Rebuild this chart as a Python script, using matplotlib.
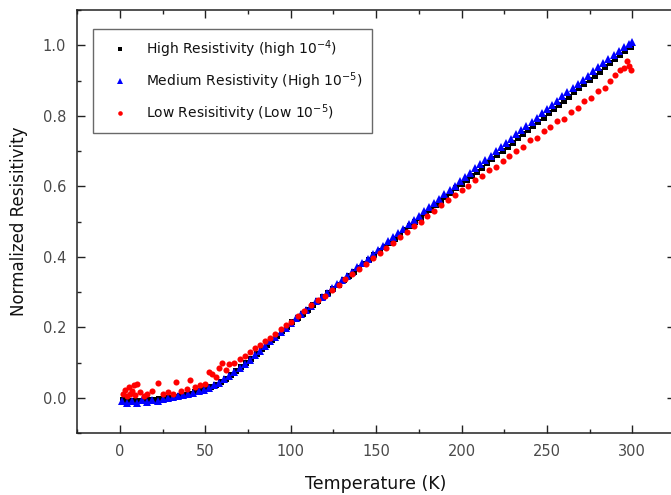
import matplotlib
matplotlib.use("Agg")
import matplotlib.pyplot as plt
from matplotlib.ticker import MultipleLocator

plt.rcParams['font.family'] = ['DejaVu Sans']
plt.rcParams['mathtext.default'] = 'regular'

# ---- data ----
T_high = [2, 5, 8, 11, 14, 17, 20, 23, 26, 29, 32, 35, 38, 41, 44, 47, 50, 53, 56, 59,
          62, 65, 68, 71, 74, 77, 80, 83, 86, 89, 92, 95, 98, 101, 104, 107, 110, 113, 116, 119,
          122, 125, 128, 131, 134, 137, 140, 143, 146, 149, 152, 155, 158, 161, 164, 167, 170, 173, 176, 179,
          182, 185, 188, 191, 194, 197, 200, 203, 206, 209, 212, 215, 218, 221, 224, 227, 230, 233, 236, 239,
          242, 245, 248, 251, 254, 257, 260, 263, 266, 269, 272, 275, 278, 281, 284, 287, 290, 293, 296, 299]
R_high = [-0.006, -0.008, -0.009, -0.009, -0.008, -0.007, -0.005, -0.004, -0.002, 0.000,
          0.002, 0.005, 0.008, 0.011, 0.015, 0.019, 0.024, 0.030, 0.037, 0.045,
          0.054, 0.064, 0.075, 0.087, 0.099, 0.111, 0.124, 0.137, 0.150, 0.163,
          0.176, 0.189, 0.201, 0.214, 0.226, 0.238, 0.250, 0.262, 0.274, 0.286,
          0.297, 0.309, 0.321, 0.333, 0.345, 0.357, 0.369, 0.380, 0.392, 0.404,
          0.416, 0.428, 0.440, 0.451, 0.463, 0.475, 0.487, 0.499, 0.511, 0.523,
          0.534, 0.546, 0.558, 0.570, 0.582, 0.594, 0.605, 0.617, 0.629, 0.641,
          0.653, 0.665, 0.676, 0.688, 0.700, 0.712, 0.724, 0.736, 0.748, 0.759,
          0.771, 0.783, 0.795, 0.807, 0.819, 0.830, 0.842, 0.854, 0.866, 0.878,
          0.890, 0.901, 0.913, 0.925, 0.937, 0.949, 0.961, 0.972, 0.984, 0.996]

T_med = [1, 4, 7, 10, 13, 16, 19, 22, 25, 28, 31, 34, 37, 40, 43, 46, 49, 52, 55, 58,
         61, 64, 67, 70, 73, 76, 79, 82, 85, 88, 91, 94, 97, 100, 103, 106, 109, 112, 115, 118,
         121, 124, 127, 130, 133, 136, 139, 142, 145, 148, 151, 154, 157, 160, 163, 166, 169, 172, 175, 178,
         181, 184, 187, 190, 193, 196, 199, 202, 205, 208, 211, 214, 217, 220, 223, 226, 229, 232, 235, 238,
         241, 244, 247, 250, 253, 256, 259, 262, 265, 268, 271, 274, 277, 280, 283, 286, 289, 292, 295, 298, 300]
R_med = [-0.010, -0.015, -0.008, -0.016, -0.007, -0.012, -0.005, -0.009, -0.003, -0.002,
         0.001, 0.004, 0.007, 0.010, 0.014, 0.018, 0.023, 0.028, 0.035, 0.043,
         0.052, 0.062, 0.072, 0.084, 0.096, 0.108, 0.121, 0.134, 0.147, 0.160,
         0.173, 0.186, 0.199, 0.212, 0.225, 0.237, 0.249, 0.261, 0.274, 0.286,
         0.298, 0.310, 0.322, 0.334, 0.346, 0.358, 0.370, 0.383, 0.395, 0.407,
         0.419, 0.431, 0.444, 0.456, 0.468, 0.480, 0.492, 0.505, 0.517, 0.529,
         0.541, 0.553, 0.565, 0.578, 0.590, 0.602, 0.614, 0.626, 0.638, 0.651,
         0.663, 0.675, 0.687, 0.699, 0.711, 0.723, 0.735, 0.747, 0.759, 0.771,
         0.783, 0.795, 0.807, 0.819, 0.831, 0.843, 0.855, 0.867, 0.879, 0.890,
         0.902, 0.914, 0.926, 0.938, 0.950, 0.962, 0.973, 0.985, 0.995, 1.004, 1.008]

T_low = [2, 3, 4, 5, 6, 7, 8, 9, 10, 12, 14, 16, 19, 22, 25, 28, 31, 33, 36, 39,
         41, 44, 47, 50, 52, 54, 56, 58, 60, 62, 64, 67, 70, 73, 76, 79, 82, 85, 88, 91,
         94, 97, 100, 104, 108, 112, 116, 120, 124, 128, 132, 136, 140, 144, 148, 152, 156, 160, 164, 168,
         172, 176, 180, 184, 188, 192, 196, 200, 204, 208, 212, 216, 220, 224, 228, 232, 236, 240, 244, 248,
         252, 256, 260, 264, 268, 272, 276, 280, 284, 287, 290, 293, 295, 297, 298, 299]
R_low = [0.010, 0.022, 0.005, 0.030, 0.012, 0.018, 0.036, 0.008, 0.038, 0.015,
         0.004, 0.010, 0.020, 0.043, 0.010, 0.015, 0.012, 0.046, 0.018, 0.025,
         0.050, 0.030, 0.035, 0.040, 0.072, 0.068, 0.060, 0.085, 0.100, 0.078,
         0.095, 0.100, 0.110, 0.118, 0.130, 0.140, 0.150, 0.160, 0.170, 0.182,
         0.194, 0.205, 0.216, 0.232, 0.246, 0.262, 0.276, 0.290, 0.306, 0.320,
         0.336, 0.352, 0.366, 0.380, 0.396, 0.410, 0.426, 0.440, 0.456, 0.470,
         0.486, 0.500, 0.516, 0.530, 0.546, 0.560, 0.576, 0.588, 0.600, 0.618,
         0.630, 0.646, 0.656, 0.672, 0.686, 0.700, 0.712, 0.730, 0.738, 0.756,
         0.768, 0.786, 0.792, 0.812, 0.822, 0.842, 0.850, 0.870, 0.880, 0.900,
         0.915, 0.930, 0.935, 0.955, 0.940, 0.930]

labels = ["High Resistivity (high 10$^{-4}$)",
          "Medium Resistivity (High 10$^{-5}$)",
          "Low Resisitivity (Low 10$^{-5}$)"]
x_ticks = [0, 50, 100, 150, 200, 250, 300]
y_ticks = [0.0, 0.2, 0.4, 0.6, 0.8, 1.0]

# ---- figure ----
W, H = 671, 495
fig = plt.figure(figsize=(W / 100, H / 100), dpi=100)
left, right, bottom, top = 77.3, 675, 433, 10
ax = fig.add_axes([left / W, (H - bottom) / H, (right - left) / W, (bottom - top) / H])

ax.plot(T_high, R_high, linestyle='none', marker='s', ms=3.8, color='black',
        markeredgewidth=0, label=labels[0])
ax.plot(T_med, R_med, linestyle='none', marker='^', ms=5.8, color='#0000ff',
        markeredgewidth=0, label=labels[1])
ax.plot(T_low, R_low, linestyle='none', marker='o', ms=4.4, color='#ff0000',
        markeredgewidth=0, label=labels[2])

ax.set_xlim(-25, 325)
ax.set_ylim(-0.1, 1.1)
ax.set_xticks(x_ticks)
ax.set_yticks(y_ticks)
ax.set_xticklabels([str(v) for v in x_ticks])
ax.set_yticklabels([f"{v:.1f}" for v in y_ticks])
ax.xaxis.set_minor_locator(MultipleLocator(25))
ax.yaxis.set_minor_locator(MultipleLocator(0.1))
ax.tick_params(which='both', direction='in', top=True, right=True, width=1.0, color='#222222')
ax.tick_params(which='major', length=6)
ax.tick_params(which='minor', length=3)
ax.tick_params(axis='x', which='major', pad=8, labelsize=10.5, labelcolor='#4a4a4a')
ax.tick_params(axis='y', which='major', pad=8, labelsize=10.5, labelcolor='#4a4a4a')
for sp in ax.spines.values():
    sp.set_linewidth(1.1)
    sp.set_color('#222222')

ax.set_xlabel("Temperature (K)", fontsize=12.5, color='#111111')
ax.set_ylabel("Normalized Resisitivity", fontsize=12, color='#111111')
ax.xaxis.set_label_coords(0.5, -0.1)
ax.yaxis.set_label_coords(-0.082, 0.5)

leg = ax.legend(loc='upper left', bbox_to_anchor=(0.0268, 0.955), borderaxespad=0,
                fontsize=10, frameon=True, fancybox=False, shadow=False,
                handlelength=2.4, handletextpad=0.67, borderpad=0.7, labelspacing=0.72,
                markerscale=0.75)
leg.get_frame().set_edgecolor('#444444')
leg.get_frame().set_linewidth(1.0)
for t in leg.get_texts():
    t.set_color('#111111')

fig.savefig("out.png", dpi=100)
